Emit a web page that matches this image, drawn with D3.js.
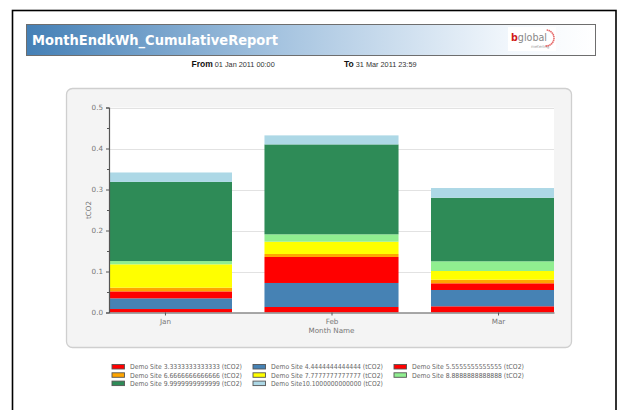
<!DOCTYPE html>
<html><head><meta charset="utf-8">
<script src="https://cdn.jsdelivr.net/npm/d3@7"></script>
<style>body{margin:0;background:#fff}svg{display:block}</style>
</head><body>
<svg id="c" width="624" height="410"></svg>
<script>
const months = ["Jan", "Feb", "Mar"];
const seriesNames = [
  "Demo Site 3.3333333333333 (tCO2)",
  "Demo Site 4.4444444444444 (tCO2)",
  "Demo Site 5.5555555555555 (tCO2)",
  "Demo Site 6.6666666666666 (tCO2)",
  "Demo Site 7.7777777777777 (tCO2)",
  "Demo Site 8.8888888888888 (tCO2)",
  "Demo Site 9.9999999999999 (tCO2)",
  "Demo Site10.1000000000000 (tCO2)"
];
const site3 = [0.0085, 0.0134, 0.0151];
const site4 = [0.026, 0.0586, 0.0398];
const site5 = [0.017, 0.0634, 0.0163];
const site6 = [0.009, 0.0073, 0.0088];
const site7 = [0.057, 0.030, 0.0212];
const site8 = [0.008, 0.018, 0.0237];
const site9 = [0.193, 0.2193, 0.155];
const site10 = [0.023, 0.022, 0.0237];
const yTicks = [0.0, 0.1, 0.2, 0.3, 0.4, 0.5];
const colors = ["#ff0000", "#4682b4", "#ff0000", "#ffa500", "#ffff00", "#90ee90", "#2e8b57", "#add8e6"];

const seriesValues = [site3, site4, site5, site6, site7, site8, site9, site10];
const table = months.map((m, i) => {
  const o = {month: m};
  seriesNames.forEach((s, j) => o[s] = seriesValues[j][i]);
  return o;
});

const svg = d3.select("#c");
const defs = svg.append("defs");

// page border
svg.append("rect").attr("x", 12.5).attr("y", 10.5).attr("width", 603.5).attr("height", 420)
  .attr("fill", "#fff").attr("stroke", "#000").attr("stroke-width", 1.6);

// header
const grad = defs.append("linearGradient").attr("id", "hg").attr("x1", 0).attr("x2", 1).attr("y1", 0).attr("y2", 0);
grad.append("stop").attr("offset", "0%").attr("stop-color", "#4580b6");
grad.append("stop").attr("offset", "45%").attr("stop-color", "#a6c4e0");
grad.append("stop").attr("offset", "85%").attr("stop-color", "#f2f7fc");
grad.append("stop").attr("offset", "100%").attr("stop-color", "#ffffff");
svg.append("rect").attr("x", 26.5).attr("y", 24.5).attr("width", 569).attr("height", 31)
  .attr("fill", "url(#hg)").attr("stroke", "#6e6e6e").attr("stroke-width", 1);
svg.append("text").attr("x", 32).attr("y", 44.5).text("MonthEndkWh_CumulativeReport")
  .attr("font-family", "DejaVu Sans").attr("font-weight", "bold").attr("font-size", 13.5)
  .attr("fill", "#fff").attr("textLength", 246).attr("lengthAdjust", "spacingAndGlyphs");

// logo
svg.append("rect").attr("x", 508).attr("y", 27).attr("width", 48).attr("height", 24).attr("fill", "#fff");
const lg = svg.append("text").attr("x", 511).attr("y", 41).attr("font-family", "DejaVu Sans").attr("font-size", 11)
  .attr("textLength", 36).attr("lengthAdjust", "spacingAndGlyphs");
lg.append("tspan").text("b").attr("fill", "#d01a1a").attr("font-weight", "bold");
lg.append("tspan").text("global").attr("fill", "#888");
svg.append("text").attr("x", 531).attr("y", 48).text("metering").attr("font-family", "DejaVu Sans")
  .attr("font-size", 4).attr("fill", "#999");
d3.range(-80, 100, 14).forEach(a => {
  const r = a * Math.PI / 180;
  svg.append("circle").attr("cx", 546 + 8 * Math.cos(r)).attr("cy", 38 + 8 * Math.sin(r)).attr("r", 0.9)
    .attr("fill", "#e04848").attr("opacity", 0.8);
});

// From / To
const ft = (x, lab, val) => {
  const t = svg.append("text").attr("x", x).attr("y", 67).attr("font-family", "Liberation Sans");
  t.append("tspan").text(lab).attr("font-weight", "bold").attr("font-size", 8.5).attr("fill", "#111");
  t.append("tspan").text(" " + val).attr("font-size", 7.3).attr("fill", "#333");
};
ft(191.5, "From", "01 Jan 2011 00:00");
ft(344, "To", "31 Mar 2011 23:59");

// chart panel
svg.append("rect").attr("x", 66.5).attr("y", 88.5).attr("width", 505).attr("height", 259).attr("rx", 6)
  .attr("fill", "#f4f4f4").attr("stroke", "#cfcfcf").attr("stroke-width", 1.3);

const L = 109, R = 554, T = 107.5, B = 312.5;
const x = d3.scalePoint().domain(months).range([L, R]).padding(0.336);
const bw = x.step() * 0.805;
const y = d3.scaleLinear().domain([0, 0.5]).range([B, T]);

svg.append("rect").attr("x", L).attr("y", T).attr("width", R - L).attr("height", B - T).attr("fill", "#fff");
defs.append("clipPath").attr("id", "pc").append("rect").attr("x", L).attr("y", T - 5).attr("width", R - L).attr("height", B - T + 5);

// grid
svg.append("g").selectAll("line").data(yTicks.slice(1)).join("line")
  .attr("x1", L).attr("x2", R).attr("y1", d => Math.round(y(d)) + 0.5).attr("y2", d => Math.round(y(d)) + 0.5)
  .attr("stroke", "#e2e2e2").attr("stroke-width", 1);

// bars
const stack = d3.stack().keys(seriesNames)(table);
const bars = svg.append("g").attr("clip-path", "url(#pc)");
stack.forEach((layer, j) => {
  bars.append("g").attr("fill", colors[j]).selectAll("rect").data(layer).join("rect")
    .attr("x", d => x(d.data.month) - bw / 2).attr("width", bw)
    .attr("y", d => y(d[1])).attr("height", d => y(d[0]) - y(d[1]));
});

// y axis
const ya = svg.append("g").attr("transform", `translate(${L},0)`)
  .call(d3.axisLeft(y).tickValues(yTicks).tickFormat(d3.format(".1f")).tickSize(3).tickPadding(3));
ya.select(".domain").attr("stroke", "#555").attr("stroke-width", 1.2);
ya.selectAll(".tick line").attr("stroke", "#555");
ya.selectAll(".tick text").attr("font-family", "DejaVu Sans").attr("font-size", 7.2).attr("fill", "#777");
svg.append("g").attr("transform", `translate(${L},0)`)
  .call(d3.axisLeft(y).tickValues([0.05, 0.15, 0.25, 0.35, 0.45]).tickFormat("").tickSize(2))
  .call(g => g.select(".domain").remove()).selectAll("line").attr("stroke", "#555");

// x axis
const xa = svg.append("g").attr("transform", `translate(0,${B})`)
  .call(d3.axisBottom(x).tickSize(3).tickPadding(3).tickSizeOuter(0));
xa.select(".domain").attr("stroke", "#555").attr("stroke-width", 1.2);
xa.selectAll(".tick line").attr("stroke", "#555");
xa.selectAll(".tick text").attr("font-family", "DejaVu Sans").attr("font-size", 7.2).attr("fill", "#777");

svg.append("text").attr("x", (L + R) / 2).attr("y", 333).attr("text-anchor", "middle").text("Month Name")
  .attr("font-family", "DejaVu Sans").attr("font-size", 7.2).attr("fill", "#777");
svg.append("text").attr("transform", `translate(91,${(T + B) / 2}) rotate(-90)`).attr("text-anchor", "middle")
  .text("tCO2").attr("font-family", "DejaVu Sans").attr("font-size", 7.2).attr("fill", "#777");

// legend
const colX = [111.5, 252.5, 393.5];
const rowY = [364, 372.3, 380.6];
seriesNames.forEach((s, j) => {
  const cx = colX[j % 3], cy = rowY[Math.floor(j / 3)];
  svg.append("rect").attr("x", cx + 0.5).attr("y", cy + 0.5).attr("width", 12.5).attr("height", 4.5)
    .attr("fill", colors[j]).attr("stroke", "#555").attr("stroke-width", 0.9);
  svg.append("text").attr("x", cx + 18.5).attr("y", cy + 5.2).text(s)
    .attr("font-family", "DejaVu Sans").attr("font-size", 6.9).attr("fill", "#666")
    .attr("textLength", s.length * 114 / 32.6).attr("lengthAdjust", "spacingAndGlyphs");
});
</script>
</body></html>
